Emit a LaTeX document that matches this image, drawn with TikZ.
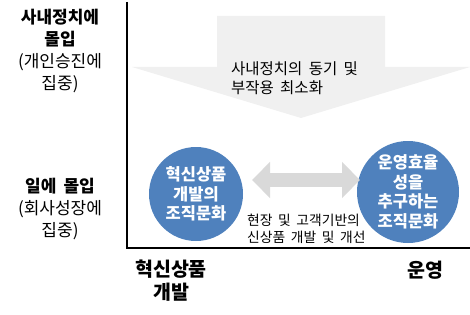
\documentclass[tikz,border=0pt]{standalone}
\usepackage{fontspec}
\setmainfont{Noto Sans CJK KR}[WordSpace=1.8]
\usetikzlibrary{arrows.meta}
\definecolor{circblue}{HTML}{4F81BD}
\definecolor{biggray}{HTML}{F0F0F0}
\definecolor{dblgray}{HTML}{D9D9D9}
\tikzset{
  axisline/.style={line width=2.2pt, black},
  circ/.style={circle, fill=circblue, draw=none, text=white, font=\bfseries\fontsize{16.5}{19.5}\selectfont, align=center, inner sep=0pt},
  sidelabel/.style={align=center, font=\fontsize{17}{22}\selectfont, inner sep=0pt},
  botlabel/.style={align=center, font=\bfseries\fontsize{19.5}{23}\selectfont, inner sep=0pt},
  smalltext/.style={align=left, font=\fontsize{13.8}{17.5}\selectfont, inner sep=0pt, anchor=west},
}
\begin{document}
\begin{tikzpicture}[x=1pt, y=-1pt]
\useasboundingbox (0,0) rectangle (470,315);
% big down arrow
\fill[biggray] (217,16) -- (385,16) -- (385,67) -- (470,67) -- (301,118) -- (132,67) -- (217,67) -- cycle;
\node[smalltext, font=\fontsize{15.5}{19}\selectfont] (armtext) at (231,78) {사내정치의 동기 및\\부작용 최소화};
% axes
\coordinate (top) at (127,2);
\coordinate (origin) at (127,248);
\coordinate (right) at (470,248);
\draw[axisline] (top) -- (origin) -- (right);
% circles
\node[circ, minimum size=94pt] (left) at (196,194) {혁신상품\\개발의\\조직문화};
\node[circ, minimum size=102pt] (rightc) at (408,192) {운영효율\\성을\\추구하는\\조직문화};
% double arrow
\coordinate (da1) at (252,180);
\coordinate (da2) at (360,180);
\draw[dblgray, line width=14pt, {Triangle[width=35pt,length=18pt]}-{Triangle[width=35pt,length=18pt]}] (da1) -- (da2);
\node[smalltext] (midtext) at (247,229) {현장 및 고객기반의\\신상품 개발 및 개선};
% side labels
\node[sidelabel] (ylab1) at (60,51) {\textbf{사내정치에}\\\textbf{몰입}\\(개인승진에\\집중)};
\node[sidelabel] (ylab2) at (60,209) {\textbf{일에 몰입}\\(회사성장에\\집중)};
\node[botlabel] (xlab1) at (171,281) {혁신상품\\개발};
\node[botlabel] (xlab2) at (425,270) {운영};
\end{tikzpicture}
\end{document}
